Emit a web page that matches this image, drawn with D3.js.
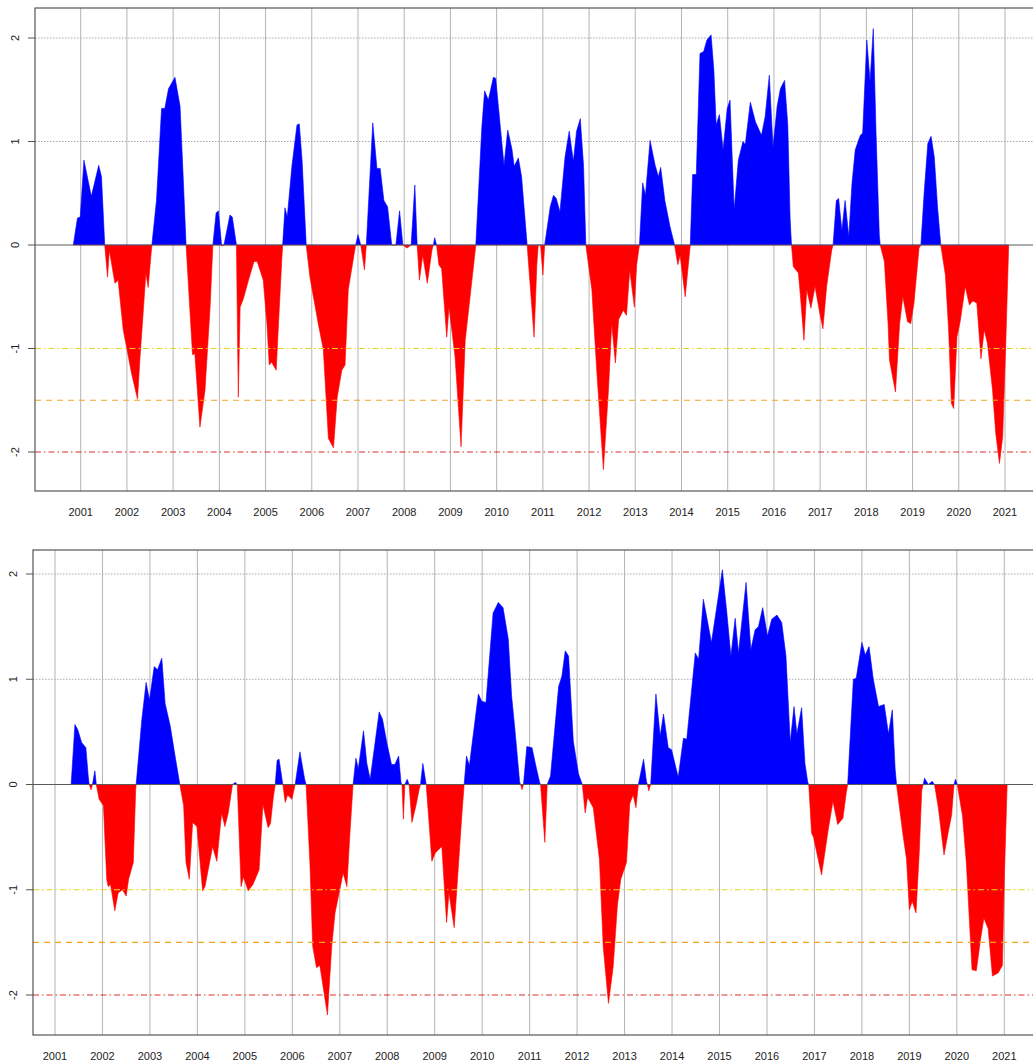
<!DOCTYPE html>
<html><head><meta charset="utf-8">
<script src="https://cdn.jsdelivr.net/npm/d3@7"></script>
<style>body{margin:0;background:#fff}svg{display:block}text{font-family:"Liberation Sans",Arial,sans-serif}</style>
</head><body>
<script>
// ---------- DATA ----------
const yearTicks = [2001,2002,2003,2004,2005,2006,2007,2008,2009,2010,2011,2012,2013,2014,2015,2016,2017,2018,2019,2020,2021];
const valueTicks = [2,1,0,-1,-2];
const thresholdValues = [-1,-1.5,-2];

const topDates = [2000.84,2000.93,2000.99,2001.07,2001.23,2001.39,2001.45,2001.52,
2001.58,2001.62,2001.74,2001.81,2001.92,2001.99,2002.10,2002.23,2002.28,2002.36,2002.41,2002.46,2002.52,2002.54,
2002.64,2002.75,2002.82,2002.90,2003.04,2003.15,2003.22,2003.28,
2003.42,2003.47,2003.58,2003.69,2003.80,2003.86,
2003.93,2003.98,2004.05,2004.10,2004.23,2004.28,2004.37,
2004.41,2004.45,2004.52,2004.63,2004.75,2004.82,2004.95,2005.03,2005.08,2005.13,2005.23,2005.28,2005.35,2005.37,
2005.42,2005.47,2005.57,2005.68,2005.73,2005.79,2005.88,
2005.96,2006.14,2006.25,2006.36,2006.47,2006.55,2006.65,2006.72,2006.79,2006.93,2006.95,
2007.00,2007.06,2007.14,2007.18,
2007.32,2007.41,2007.48,2007.56,2007.64,2007.73,2007.82,2007.90,2007.97,2008.06,2008.15,2008.23,2008.28,
2008.33,2008.40,2008.50,2008.60,2008.63,2008.66,2008.70,
2008.75,2008.81,2008.92,2008.97,2009.10,2009.23,2009.32,2009.42,2009.55,
2009.68,2009.74,2009.82,2009.93,2009.98,2010.08,2010.16,2010.24,2010.33,2010.38,2010.47,2010.54,2010.66,
2010.81,2010.87,2010.90,2010.95,2011.00,2011.04,
2011.16,2011.23,2011.29,2011.37,2011.48,2011.57,2011.66,2011.73,2011.81,2011.88,2011.93,
2012.06,2012.17,2012.31,2012.42,2012.49,2012.57,2012.64,2012.74,2012.81,2012.88,2012.98,2013.03,2013.09,
2013.16,2013.22,2013.32,2013.43,2013.50,2013.55,2013.64,2013.75,2013.85,
2013.92,2013.97,2014.08,2014.19,
2014.24,2014.32,2014.40,2014.48,2014.55,2014.64,2014.70,2014.75,2014.82,2014.90,2014.99,2015.05,2015.14,2015.23,2015.33,2015.38,2015.49,2015.60,2015.73,2015.81,2015.90,2015.98,2016.07,2016.14,2016.23,2016.30,2016.35,2016.38,
2016.42,2016.53,2016.58,2016.65,2016.71,2016.80,2016.89,2016.98,2017.06,2017.14,2017.25,2017.28,
2017.35,2017.40,2017.47,2017.54,2017.62,2017.69,2017.76,2017.87,2017.92,2018.01,2018.08,2018.15,2018.21,2018.28,2018.30,
2018.39,2018.47,2018.50,2018.63,2018.72,2018.79,2018.89,2018.96,2019.03,2019.14,2019.18,
2019.25,2019.33,2019.40,2019.47,2019.54,2019.61,
2019.71,2019.78,2019.84,2019.89,2019.96,2020.03,2020.14,2020.23,2020.30,2020.39,2020.48,2020.55,2020.62,2020.73,2020.80,2020.88,2020.95,2021.02,2021.08];
const topValues = [0,0.26,0.27,0.82,0.47,0.77,0.66,0,
-0.31,-0.05,-0.37,-0.34,-0.82,-0.98,-1.24,-1.49,-1.11,-0.60,-0.27,-0.41,-0.10,0,
0.43,1.32,1.32,1.51,1.62,1.34,0.63,0,
-1.06,-1.05,-1.76,-1.40,-0.60,0,
0.31,0.33,-0.01,0,0.29,0.27,0,
-1.47,-0.60,-0.52,-0.34,-0.16,-0.16,-0.34,-0.76,-1.16,-1.13,-1.21,-0.76,-0.15,0,
0.36,0.27,0.76,1.16,1.17,0.82,0,
-0.31,-0.76,-1.01,-1.87,-1.96,-1.47,-1.21,-1.16,-0.43,-0.05,0,
0.10,0,-0.24,0,
1.18,0.74,0.74,0.43,0.37,0,0,0.33,0,-0.03,0,0.58,0,
-0.34,-0.10,-0.37,-0.05,0,0.07,0,
-0.19,-0.23,-0.89,-0.60,-1.08,-1.95,-0.92,-0.52,0,
1.14,1.49,1.40,1.62,1.61,1.14,0.77,1.11,0.93,0.76,0.84,0.66,0,
-0.89,-0.19,0,0,-0.29,0,
0.37,0.48,0.45,0.32,0.85,1.10,0.81,1.10,1.22,0.77,0,
-0.43,-1.24,-2.17,-1.40,-0.76,-1.14,-0.72,-0.63,-0.68,-0.24,-0.60,-0.19,0,
0.60,0.48,1.01,0.77,0.66,0.75,0.43,0.18,0,
-0.19,-0.10,-0.50,0,
0.68,0.68,1.85,1.87,1.98,2.03,1.69,1.16,1.26,0.92,1.32,1.40,0.34,0.82,1.00,0.97,1.38,1.19,1.06,1.24,1.64,0.95,1.34,1.51,1.59,1.16,0.26,0,
-0.21,-0.27,-0.53,-0.92,-0.43,-0.61,-0.40,-0.63,-0.81,-0.40,-0.05,0,
0.43,0.45,0.14,0.43,0.08,0.60,0.92,1.06,1.08,1.98,1.58,2.09,1.08,0.10,0,
-0.16,-0.76,-1.11,-1.42,-0.76,-0.50,-0.74,-0.76,-0.56,-0.03,0,
0.50,0.98,1.05,0.85,0.37,0,
-0.29,-0.82,-1.53,-1.58,-0.89,-0.74,-0.40,-0.58,-0.54,-0.56,-1.10,-0.82,-0.95,-1.40,-1.82,-2.11,-1.85,-0.90,0];

const bottomDates = [2001.34,2001.42,2001.48,2001.56,2001.65,2001.70,2001.72,2001.76,2001.79,2001.84,2001.87,
2001.93,2002.02,2002.09,2002.12,2002.17,2002.26,2002.33,2002.42,2002.50,2002.55,2002.65,2002.70,2002.71,
2002.83,2002.92,2002.99,2003.09,2003.16,2003.25,2003.32,2003.43,2003.53,2003.63,
2003.71,2003.76,2003.83,2003.90,2003.99,2004.11,2004.16,2004.32,2004.41,2004.51,2004.58,2004.65,2004.74,
2004.80,2004.84,
2004.92,2004.97,2005.07,2005.17,2005.30,2005.38,2005.49,2005.54,2005.60,2005.64,
2005.68,2005.72,2005.80,
2005.85,2005.90,2005.99,2006.06,
2006.16,2006.26,2006.29,
2006.37,2006.43,2006.51,2006.58,2006.74,2006.83,2006.90,2007.07,2007.15,2007.21,2007.28,
2007.34,2007.39,2007.50,2007.57,2007.64,2007.83,2007.90,2007.99,2008.09,2008.16,2008.24,2008.29,2008.31,
2008.34,2008.37,2008.42,2008.46,
2008.52,2008.61,2008.67,2008.70,2008.75,2008.82,
2008.87,2008.94,2009.01,2009.15,2009.25,2009.30,2009.41,2009.48,2009.57,2009.62,
2009.67,2009.73,2009.92,2009.99,2010.08,2010.23,2010.34,2010.44,2010.55,2010.62,2010.69,2010.79,2010.81,
2010.84,2010.87,
2010.94,2011.05,2011.12,2011.21,2011.23,
2011.32,2011.37,
2011.44,2011.61,2011.68,2011.75,2011.82,2011.92,2012.03,2012.11,
2012.17,2012.22,2012.34,2012.47,2012.55,2012.66,2012.76,2012.85,2012.92,2013.04,2013.11,2013.18,2013.24,2013.29,
2013.40,2013.46,2013.48,2013.51,2013.55,
2013.66,2013.75,2013.82,2013.92,2013.99,2014.13,2014.24,2014.31,2014.49,2014.56,2014.66,2014.83,2014.94,2015.06,2015.15,2015.24,2015.33,2015.40,2015.56,2015.66,2015.75,2015.82,2015.91,2016.01,2016.10,2016.21,2016.31,2016.40,2016.49,2016.57,2016.63,2016.73,2016.80,2016.86,2016.88,
2016.94,2016.98,2017.15,2017.29,2017.39,2017.49,2017.60,2017.67,2017.70,
2017.82,2017.88,2018.00,2018.07,2018.15,2018.24,2018.35,2018.47,2018.56,2018.64,2018.70,2018.73,
2018.86,2018.94,2019.00,2019.06,2019.14,2019.21,2019.26,2019.29,
2019.32,2019.40,2019.48,2019.53,
2019.61,2019.73,2019.82,2019.89,2019.94,
2019.97,2020.01,
2020.12,2020.20,2020.32,2020.41,2020.50,2020.57,2020.66,2020.75,2020.87,2020.96,2021.00,2021.06];
const bottomValues = [0,0.57,0.52,0.40,0.35,0.08,0,-0.05,0,0.13,0,
-0.14,-0.20,-0.90,-0.97,-0.95,-1.20,-1.03,-1.00,-1.06,-0.90,-0.74,-0.05,0,
0.62,0.97,0.80,1.12,1.09,1.20,0.77,0.55,0.27,0,
-0.20,-0.74,-0.90,-0.36,-0.40,-1.01,-0.97,-0.59,-0.73,-0.27,-0.40,-0.27,0,
0.02,0,
-0.97,-0.88,-1.01,-0.95,-0.81,-0.19,-0.41,-0.37,-0.12,0,
0.23,0.24,0,
-0.17,-0.10,-0.14,0,
0.31,0.05,0,
-0.74,-1.54,-1.74,-1.72,-2.19,-1.54,-1.22,-0.84,-0.97,-0.49,0,
0.25,0.15,0.51,0.20,0.05,0.69,0.62,0.40,0.19,0.19,0.27,0.02,0,
-0.33,0,0.05,0,
-0.36,-0.19,-0.05,0,0.20,0,
-0.30,-0.73,-0.65,-0.59,-1.31,-1.03,-1.36,-0.90,-0.30,0,
0.27,0.18,0.86,0.79,0.78,1.63,1.73,1.68,1.38,0.84,0.52,0.02,0,
-0.05,0,
0.36,0.35,0.20,0.02,0,
-0.55,0,
0.08,0.93,1.03,1.27,1.22,0.41,0.10,0,
-0.27,-0.12,-0.22,-0.71,-1.54,-2.08,-1.73,-1.14,-0.90,-0.74,-0.18,-0.10,-0.22,0,
0.24,0.03,0,-0.06,0,
0.86,0.46,0.67,0.35,0.33,0.07,0.44,0.43,1.25,1.19,1.76,1.35,1.68,2.04,1.65,1.22,1.58,1.25,1.92,1.28,1.47,1.50,1.68,1.41,1.57,1.61,1.54,1.22,0.40,0.74,0.48,0.73,0.20,0.02,0,
-0.46,-0.50,-0.86,-0.43,-0.16,-0.38,-0.32,-0.08,0,
1.00,1.01,1.35,1.23,1.31,1.00,0.74,0.76,0.48,0.71,0.15,0,
-0.46,-0.71,-1.19,-1.11,-1.22,-0.63,-0.06,0,
0.06,0,0.03,0,
-0.22,-0.67,-0.45,-0.29,0,
0.05,0,
-0.30,-0.74,-1.76,-1.77,-1.47,-1.27,-1.37,-1.82,-1.79,-1.72,-0.90,0];

// ---------- LAYOUT ----------
const W = 1033, H = 1063;
const panels = [
  {dates: topDates, values: topValues, left: 35, top: 8, bottom: 491, right: 1045,
   x0: 80.7, x1: 1005, yTop: 38, yBot: 452, labelY: 516, yLabelX: 15},
  {dates: bottomDates, values: bottomValues, left: 33, top: 550, bottom: 1035, right: 1045,
   x0: 55, x1: 1004.3, yTop: 574, yBot: 995, labelY: 1060, yLabelX: 13}
];
const thresholdStyles = [
  {color: "#ecd21a", dash: "6 3 1.5 3"},
  {color: "#f2a526", dash: "6 5"},
  {color: "#e0302a", dash: "6 3 1.5 3"}
];

const svg = d3.select("body").append("svg").attr("width", W).attr("height", H);

panels.forEach((p, i) => {
  const x = d3.scaleLinear().domain([2001, 2021]).range([p.x0, p.x1]);
  const y = d3.scaleLinear().domain([2, -2]).range([p.yTop, p.yBot]);
  const g = svg.append("g");
  const data = p.dates.map((d, k) => ({t: d, v: p.values[k]}));

  // vertical grid
  g.selectAll(".vg").data(yearTicks).join("line")
    .attr("x1", d => x(d)).attr("x2", d => x(d))
    .attr("y1", p.top).attr("y2", p.bottom)
    .attr("stroke", "#b4b4b4").attr("stroke-width", 1);
  // horizontal grid (positive ticks)
  g.selectAll(".hg").data(valueTicks.filter(v => v > 0)).join("line")
    .attr("x1", p.left).attr("x2", p.right)
    .attr("y1", d => y(d)).attr("y2", d => y(d))
    .attr("stroke", "#a8a8a8").attr("stroke-width", 1).attr("stroke-dasharray", "1.5 1.5");

  // clips
  const y0 = y(0);
  const cp = "clipPos" + i, cn = "clipNeg" + i;
  const defs = svg.append("defs");
  defs.append("clipPath").attr("id", cp).append("rect")
    .attr("x", 0).attr("y", 0).attr("width", W).attr("height", y0);
  defs.append("clipPath").attr("id", cn).append("rect")
    .attr("x", 0).attr("y", y0).attr("width", W).attr("height", H - y0);

  const area = d3.area().x(d => x(d.t)).y0(y0).y1(d => y(d.v));
  g.append("path").datum(data).attr("d", area).attr("fill", "#0000ff")
    .attr("stroke", "#0000ff").attr("stroke-width", 0.6).attr("clip-path", `url(#${cp})`);
  g.append("path").datum(data).attr("d", area).attr("fill", "#ff0000")
    .attr("stroke", "#ff0000").attr("stroke-width", 0.6).attr("clip-path", `url(#${cn})`);

  // zero line
  g.append("line").attr("x1", p.left).attr("x2", p.right).attr("y1", y0).attr("y2", y0)
    .attr("stroke", "#5a5a5a").attr("stroke-width", 1);

  // thresholds
  g.selectAll(".th").data(thresholdValues).join("line")
    .attr("x1", p.left).attr("x2", p.right)
    .attr("y1", d => y(d)).attr("y2", d => y(d))
    .attr("stroke", (d, k) => thresholdStyles[k].color)
    .attr("stroke-dasharray", (d, k) => thresholdStyles[k].dash)
    .attr("stroke-width", 1.2);

  // frame
  g.append("rect").attr("x", p.left).attr("y", p.top)
    .attr("width", p.right - p.left).attr("height", p.bottom - p.top)
    .attr("fill", "none").attr("stroke", "#555").attr("stroke-width", 1.2);

  // y ticks and labels
  g.selectAll(".yt").data(valueTicks).join("line")
    .attr("x1", p.left - 7).attr("x2", p.left)
    .attr("y1", d => y(d)).attr("y2", d => y(d))
    .attr("stroke", "#555");
  g.selectAll(".yl").data(valueTicks).join("text")
    .attr("transform", d => `translate(${p.yLabelX},${y(d)}) rotate(-90)`)
    .attr("text-anchor", "middle").attr("dy", "0.35em")
    .attr("font-size", 11).attr("fill", "#222")
    .text(d => d);

  // x labels
  g.selectAll(".xl").data(yearTicks).join("text")
    .attr("x", d => x(d)).attr("y", p.labelY)
    .attr("text-anchor", "middle").attr("font-size", 11).attr("fill", "#222")
    .text(d => d);
});
</script>
</body></html>
